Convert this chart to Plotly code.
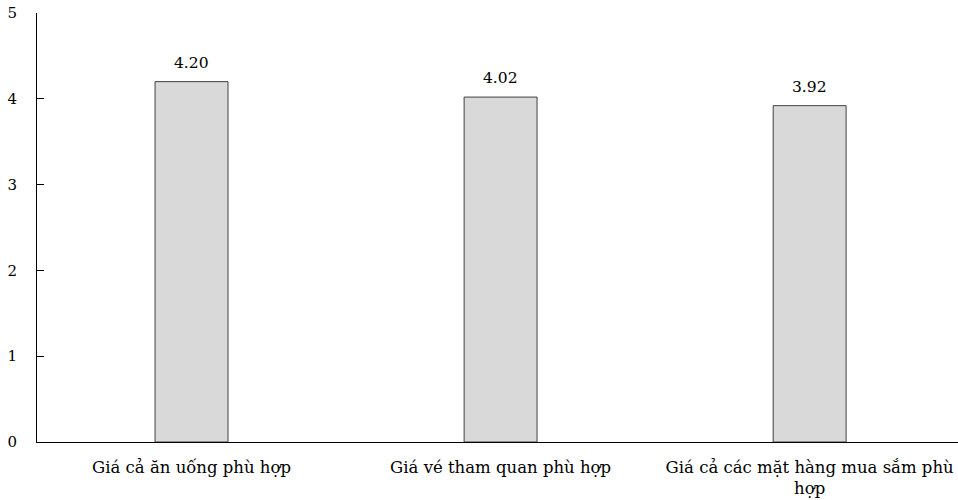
import plotly.graph_objects as go

# Mean scores for price satisfaction
categories = ["Giá cả ăn uống phù hợp", "Giá vé tham quan phù hợp",
              "Giá cả các mặt hàng mua sắm phù<br>hợp"]
values = [4.20, 4.02, 3.92]
value_labels = ["4.20", "4.02", "3.92"]
y_ticks = [0, 1, 2, 3, 4, 5]

serif = "DejaVu Serif, Liberation Serif, serif"

xpos = list(range(len(categories)))

fig = go.Figure(
    go.Bar(
        x=xpos,
        y=values,
        width=0.236,
        marker=dict(color="#d9d9d9", line=dict(color="#404040", width=1)),
        hoverinfo="skip",
    )
)

# value labels above each bar
for xi, v, lab in zip(xpos, values, value_labels):
    fig.add_annotation(
        x=xi, y=v, text=lab, showarrow=False,
        yanchor="bottom", yshift=8,
        font=dict(family=serif, size=15.5, color="#000"),
    )

fig.update_layout(
    width=958,
    height=500,
    margin=dict(l=37, r=0, t=13, b=58),
    plot_bgcolor="white",
    paper_bgcolor="white",
    showlegend=False,
    font=dict(family=serif, size=15, color="#000"),
    xaxis=dict(
        tickmode="array",
        tickvals=xpos,
        ticktext=categories,
        range=[-0.5, 2.48],
        showline=True,
        linecolor="#000",
        linewidth=1,
        ticks="",
        showgrid=False,
        zeroline=False,
        ticklabelstandoff=10,
        tickfont=dict(family=serif, size=16.5, color="#000"),
    ),
    yaxis=dict(
        range=[0, 5],
        tickvals=y_ticks,
        showline=True,
        linecolor="#000",
        linewidth=1,
        ticks="inside",
        ticklen=7,
        tickcolor="#000",
        showgrid=False,
        zeroline=False,
        ticklabelstandoff=16,
        tickfont=dict(family=serif, size=15, color="#000"),
    ),
)

fig.write_html("out.html")
